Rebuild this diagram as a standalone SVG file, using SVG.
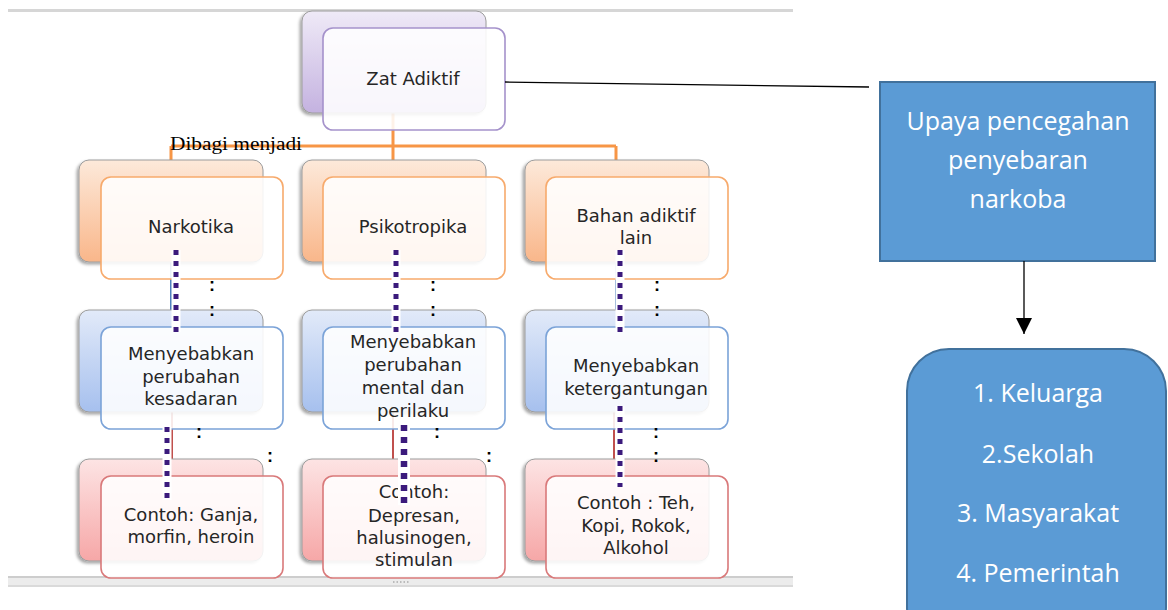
<svg xmlns="http://www.w3.org/2000/svg" width="1168" height="610" viewBox="0 0 1168 610">
<style>
.lbl{font-family:"DejaVu Sans","Liberation Sans",sans-serif;font-size:18px;fill:#262626;text-anchor:middle}
.big{font-family:"Open Sans","Liberation Sans",sans-serif;font-size:25px;fill:#ffffff;text-anchor:middle}
.col{font-family:"Liberation Sans",sans-serif;font-size:18px;font-weight:bold;fill:#000;text-anchor:middle}
.back{stroke:#9c9c9c;stroke-width:1;filter:url(#sh)}
.front{fill:#ffffff;fill-opacity:0.88;stroke-width:1.6}
.dotw{stroke:#ffffff;stroke-width:9;fill:none}
.dotp{stroke:#3b1a7c;stroke-width:5;stroke-dasharray:5 6;fill:none}
</style>
<defs>
<filter id="sh" x="-10%" y="-10%" width="120%" height="125%"><feDropShadow dx="-2" dy="2" stdDeviation="1.5" flood-color="#000" flood-opacity="0.35"/></filter>
<linearGradient id="gP" x1="0" y1="0" x2="0" y2="1"><stop offset="0" stop-color="#efeaf7"/><stop offset="1" stop-color="#c4b2e0"/></linearGradient>
<linearGradient id="gO" x1="0" y1="0" x2="0" y2="1"><stop offset="0" stop-color="#fde9da"/><stop offset="1" stop-color="#f9b68a"/></linearGradient>
<linearGradient id="gB" x1="0" y1="0" x2="0" y2="1"><stop offset="0" stop-color="#e2eaf9"/><stop offset="1" stop-color="#a6c0ee"/></linearGradient>
<linearGradient id="gR" x1="0" y1="0" x2="0" y2="1"><stop offset="0" stop-color="#fde4e4"/><stop offset="1" stop-color="#f6a7a7"/></linearGradient>
<marker id="arr" markerWidth="16" markerHeight="16" refX="16" refY="8" orient="auto" markerUnits="userSpaceOnUse" viewBox="0 0 16 16"><path d="M0 0 L16 8 L0 16 Z" fill="#000"/></marker>
</defs>
<rect width="1168" height="610" fill="#ffffff"/>
<g id="frame">
<rect x="8" y="9" width="785" height="3" fill="#d6d6d6"/>
<rect x="8" y="576" width="785" height="11" fill="#ececec"/>
<rect x="8" y="576" width="785" height="2" fill="#cdcdcd"/>
<rect x="8" y="585" width="785" height="2" fill="#dadada"/>
<line x1="393" y1="582" x2="410" y2="582" stroke="#aaaaaa" stroke-width="1.5" stroke-dasharray="1.5 2"/>
</g>
<g id="connectors-under" fill="none">
<path d="M393 113 V146 M171 146 H616 M171 146 V160 M393 146 V160 M616 146 V160" stroke="#f79646" stroke-width="3"/>
<path d="M171 262 V310 M393 262 V310 M616 262 V310" stroke="#4f81bd" stroke-width="2"/>
<path d="M172 411 V459 M393 411 V459 M614 411 V459" stroke="#c0504d" stroke-width="2"/>
</g>
<g id="node-zat">
<rect class="back" x="302" y="11" width="184" height="102" rx="10" fill="url(#gP)"/>
<rect class="front" x="323" y="28" width="182" height="102" rx="10" stroke="#a592cb"/>
<text class="lbl" x="413" y="85">Zat Adiktif</text>
</g>
<g id="node-narkotika">
<rect class="back" x="79" y="160" width="184" height="102" rx="10" fill="url(#gO)"/>
<rect class="front" x="101" y="177" width="182" height="102" rx="10" stroke="#f7aa6c"/>
<text class="lbl" x="191" y="233">Narkotika</text>
</g>
<g id="node-psikotropika">
<rect class="back" x="302" y="160" width="184" height="102" rx="10" fill="url(#gO)"/>
<rect class="front" x="323" y="177" width="182" height="102" rx="10" stroke="#f7aa6c"/>
<text class="lbl" x="413" y="233">Psikotropika</text>
</g>
<g id="node-bahan">
<rect class="back" x="525" y="160" width="184" height="102" rx="10" fill="url(#gO)"/>
<rect class="front" x="546" y="177" width="182" height="102" rx="10" stroke="#f7aa6c"/>
<text class="lbl" x="636" y="222">Bahan adiktif<tspan x="636" dy="22">lain</tspan></text>
</g>
<g id="node-kesadaran">
<rect class="back" x="79" y="310" width="184" height="102" rx="10" fill="url(#gB)"/>
<rect class="front" x="101" y="327" width="182" height="102" rx="10" stroke="#7ba3d8"/>
<text class="lbl" x="191" y="360">Menyebabkan<tspan x="191" dy="23">perubahan</tspan><tspan x="191" dy="22">kesadaran</tspan></text>
</g>
<g id="node-mental">
<rect class="back" x="302" y="310" width="184" height="102" rx="10" fill="url(#gB)"/>
<rect class="front" x="323" y="327" width="182" height="102" rx="10" stroke="#7ba3d8"/>
<text class="lbl" x="413" y="348">Menyebabkan<tspan x="413" dy="23">perubahan</tspan><tspan x="413" dy="23">mental dan</tspan><tspan x="413" dy="23">perilaku</tspan></text>
</g>
<g id="node-ketergantungan">
<rect class="back" x="525" y="310" width="184" height="102" rx="10" fill="url(#gB)"/>
<rect class="front" x="546" y="327" width="182" height="102" rx="10" stroke="#7ba3d8"/>
<text class="lbl" x="636" y="372">Menyebabkan<tspan x="636" dy="23">ketergantungan</tspan></text>
</g>
<g id="node-contoh1">
<rect class="back" x="79" y="459" width="184" height="102" rx="10" fill="url(#gR)"/>
<rect class="front" x="101" y="476" width="182" height="102" rx="10" stroke="#d9797a"/>
<text class="lbl" x="191" y="521">Contoh: Ganja,<tspan x="191" dy="22">morfin, heroin</tspan></text>
</g>
<g id="node-contoh2">
<rect class="back" x="302" y="459" width="184" height="102" rx="10" fill="url(#gR)"/>
<rect class="front" x="323" y="476" width="182" height="102" rx="10" stroke="#d9797a"/>
<text class="lbl" x="414" y="498">Contoh:<tspan x="414" dy="24">Depresan,</tspan><tspan x="414" dy="22">halusinogen,</tspan><tspan x="414" dy="22">stimulan</tspan></text>
</g>
<g id="node-contoh3">
<rect class="back" x="525" y="459" width="184" height="102" rx="10" fill="url(#gR)"/>
<rect class="front" x="546" y="476" width="182" height="102" rx="10" stroke="#d9797a"/>
<text class="lbl" x="636" y="509">Contoh : Teh,<tspan x="636" dy="23">Kopi, Rokok,</tspan><tspan x="636" dy="22">Alkohol</tspan></text>
</g>
<g id="node-upaya">
<rect x="880" y="82" width="275" height="179" fill="#5b9bd5" stroke="#41719c" stroke-width="2"/>
<text class="big" x="1018" y="130">Upaya pencegahan<tspan x="1018" dy="39">penyebaran</tspan><tspan x="1018" dy="39">narkoba</tspan></text>
</g>
<g id="node-pihak">
<rect x="907" y="349" width="259" height="300" rx="42" fill="#5b9bd5" stroke="#41719c" stroke-width="2"/>
<text class="big" x="1038" y="402">1. Keluarga<tspan x="1038" dy="61">2.Sekolah</tspan><tspan x="1038" dy="59">3. Masyarakat</tspan><tspan x="1038" dy="60">4. Pemerintah</tspan></text>
</g>
<g id="connectors" fill="none">
<path d="M176 250 V332 M396 250 V332 M620 250 V332 M167 427 V500 M620 406 V487" class="dotw"/>
<path d="M404 425 V505" stroke="#ffffff" stroke-width="12"/>
<path d="M176 250 V332 M396 250 V332 M620 250 V332 M167 427 V500 M620 406 V487" class="dotp"/>
<path d="M404 425 V505" stroke="#3b1a7c" stroke-width="6.5" stroke-dasharray="6 6"/>
<path d="M505 82 L869 87" stroke="#000" stroke-width="1.3"/>
<path d="M1024 261 V334" stroke="#000" stroke-width="1.3" marker-end="url(#arr)"/>
</g>
<g id="labels">
<text x="170" y="150" font-family="Liberation Serif, serif" font-size="19" fill="#000" textLength="132" lengthAdjust="spacingAndGlyphs">Dibagi menjadi</text>
<text class="col" x="212" y="291">:</text>
<text class="col" x="212" y="316">:</text>
<text class="col" x="433" y="291">:</text>
<text class="col" x="433" y="316">:</text>
<text class="col" x="657" y="291">:</text>
<text class="col" x="657" y="316">:</text>
<text class="col" x="199" y="438">:</text>
<text class="col" x="270" y="462">:</text>
<text class="col" x="437" y="438">:</text>
<text class="col" x="489" y="462">:</text>
<text class="col" x="656" y="438">:</text>
<text class="col" x="656" y="462">:</text>
</g>
</svg>
